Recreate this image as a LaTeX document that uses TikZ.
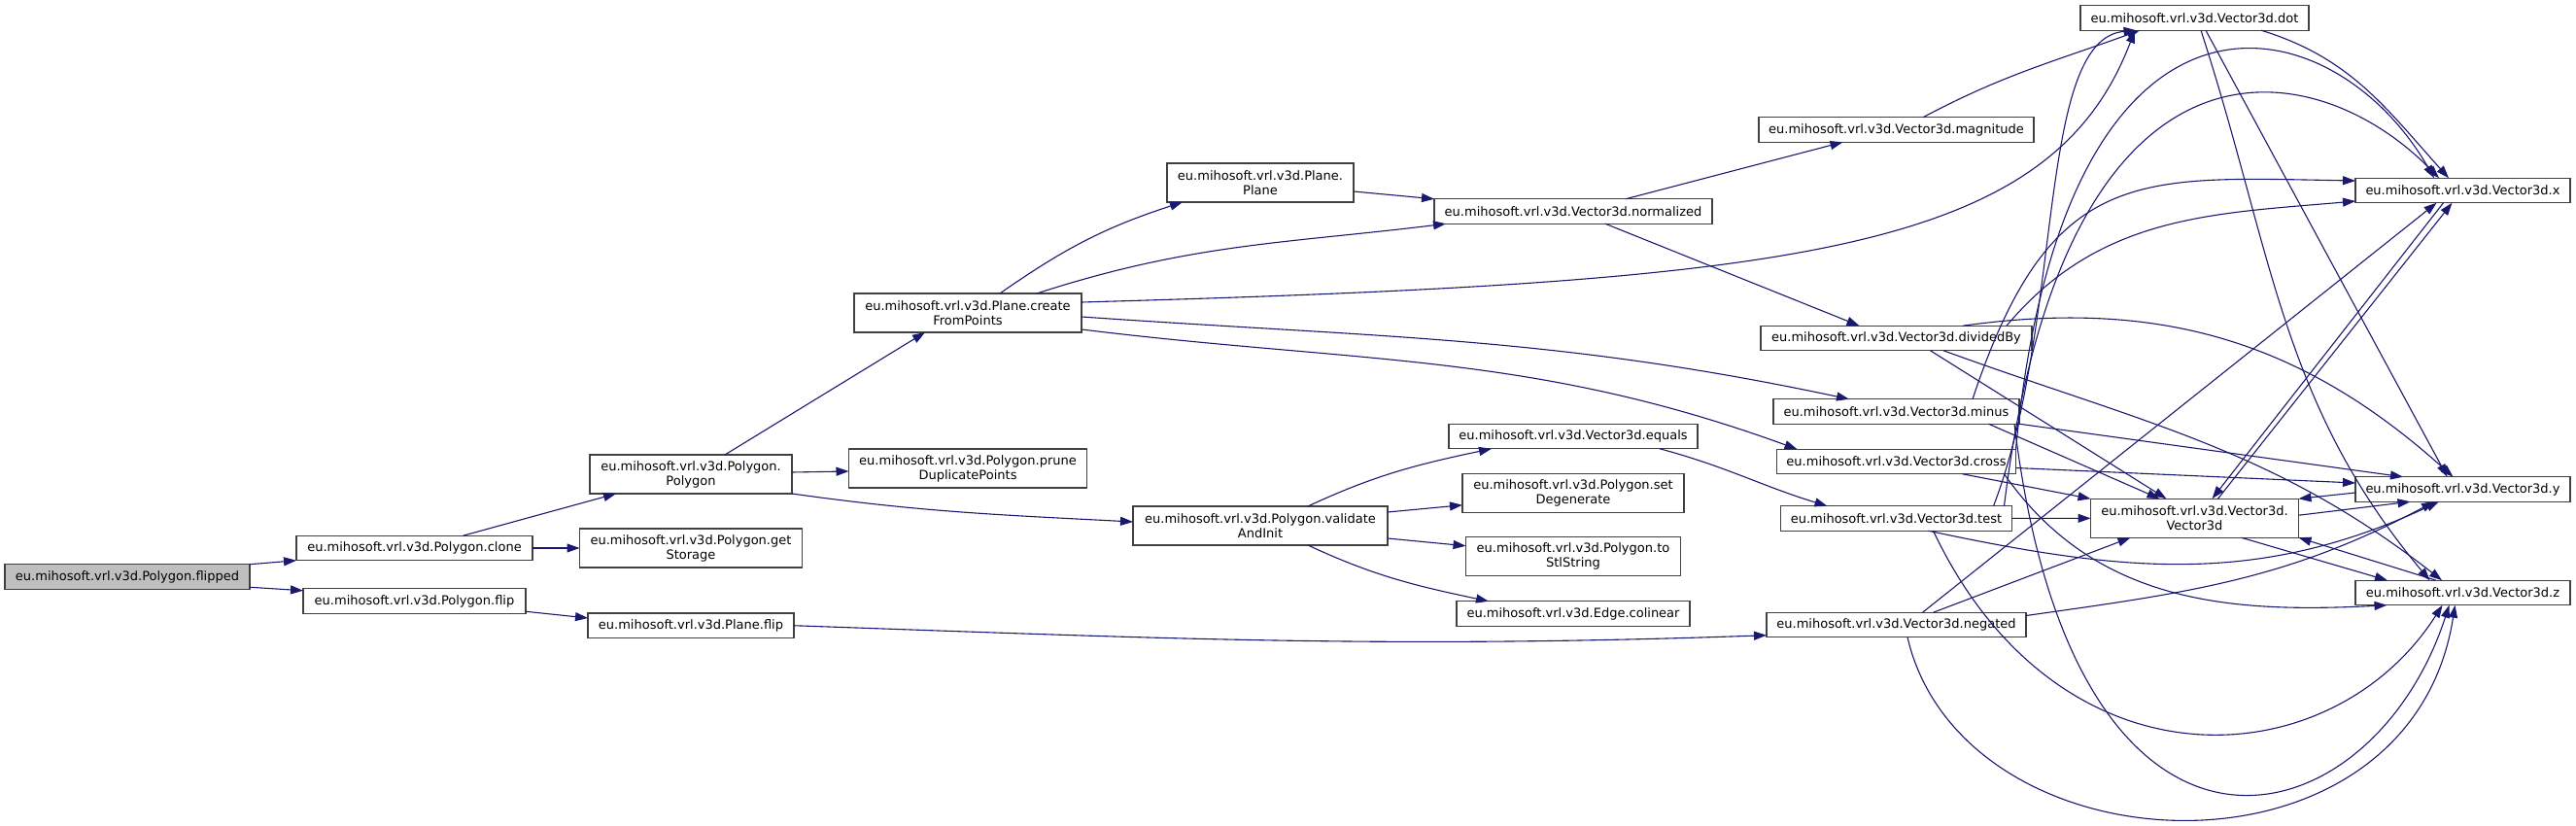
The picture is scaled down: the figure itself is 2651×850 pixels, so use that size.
\documentclass[tikz,border=0pt]{standalone}
\usepackage{fontspec}
\setmainfont{DejaVu Sans}
\usepackage{tikz}
\usetikzlibrary{arrows.meta,positioning}
\definecolor{edgeblue}{HTML}{191970}
\definecolor{nodeline}{HTML}{404040}
\definecolor{rootfill}{HTML}{BFBFBF}

\begin{document}
\begin{tikzpicture}[
    node distance=26pt,
    func/.style={draw=nodeline, line width=1.3pt, fill=#1, inner sep=2pt, outer sep=0pt, minimum height=25.5pt, align=center, font=\fontsize{13pt}{15pt}\selectfont},
    func/.default=white,
    call/.style={-{Triangle[length=13pt,width=9pt]}, line width=1.1pt, color=edgeblue},
]
\useasboundingbox (0,0) rectangle (2651pt,-850pt);

% ── Caller ──
\node[func=rootfill, minimum width=252pt] (flipped) at (131pt,-593.5pt) {eu.mihosoft.vrl.v3d.Polygon.flipped};

% ── Polygon level ──
\node[func, minimum width=243pt, right=48pt of flipped, yshift=29.5pt] (clone) {eu.mihosoft.vrl.v3d.Polygon.clone};
\node[func, minimum width=229pt, below=29pt of clone] (pflip) {eu.mihosoft.vrl.v3d.Polygon.flip};

\node[func, minimum width=208pt, minimum height=40pt, right=59pt of clone, yshift=76pt] (polygon) {eu.mihosoft.vrl.v3d.Polygon.\\Polygon};
\node[func, minimum width=229pt, minimum height=40pt, below=36pt of polygon] (storage) {eu.mihosoft.vrl.v3d.Polygon.get\\Storage};
\node[func, minimum width=212pt, below=47pt of storage] (planeflip) {eu.mihosoft.vrl.v3d.Plane.flip};

% ── Plane level ──
\node[func, minimum width=234pt, minimum height=40pt, right=64pt of polygon, yshift=166pt] (create) {eu.mihosoft.vrl.v3d.Plane.create\\FromPoints};
\node[func, minimum width=245pt, minimum height=40pt, below=120pt of create] (prune) {eu.mihosoft.vrl.v3d.Polygon.prune\\DuplicatePoints};

\node[func, minimum width=192pt, minimum height=40pt, right=88pt of create, yshift=134pt] (plane) {eu.mihosoft.vrl.v3d.Plane.\\Plane};
\node[func, minimum width=262pt, minimum height=40pt, below=313pt of plane] (validate) {eu.mihosoft.vrl.v3d.Polygon.validate\\AndInit};

% ── Helpers ──
\node[func, minimum width=286pt, right=83pt of plane, yshift=-29.5pt] (normalized) {eu.mihosoft.vrl.v3d.Vector3d.normalized};
\node[func, minimum width=256pt, below=206pt of normalized] (equals) {eu.mihosoft.vrl.v3d.Vector3d.equals};
\node[func, minimum width=228pt, minimum height=40pt, below=26pt of equals] (degenerate) {eu.mihosoft.vrl.v3d.Polygon.set\\Degenerate};
\node[func, minimum width=221pt, minimum height=40pt, below=25pt of degenerate] (stl) {eu.mihosoft.vrl.v3d.Polygon.to\\StlString};
\node[func, minimum width=240pt, below=26pt of stl] (colinear) {eu.mihosoft.vrl.v3d.Edge.colinear};

% ── Vector3d operations ──
\node[func, minimum width=283pt, right=48pt of normalized, yshift=84pt] (magnitude) {eu.mihosoft.vrl.v3d.Vector3d.magnitude};
\node[func, minimum width=279pt, below=189pt of magnitude] (divided) {eu.mihosoft.vrl.v3d.Vector3d.dividedBy};
\node[func, minimum width=253pt, below=50pt of divided] (minus) {eu.mihosoft.vrl.v3d.Vector3d.minus};
\node[func, minimum width=246pt, below=26pt of minus] (cross) {eu.mihosoft.vrl.v3d.Vector3d.cross};
\node[func, minimum width=238pt, below=33pt of cross] (test) {eu.mihosoft.vrl.v3d.Vector3d.test};
\node[func, minimum width=267pt, below=84pt of test] (negated) {eu.mihosoft.vrl.v3d.Vector3d.negated};

\node[func, minimum width=235pt, right=48pt of magnitude, yshift=115pt] (dot) {eu.mihosoft.vrl.v3d.Vector3d.dot};
\node[func, minimum width=214pt, minimum height=40pt, below=482pt of dot] (vec) {eu.mihosoft.vrl.v3d.Vector3d.\\Vector3d};

% ── Accessors ──
\node[func, minimum width=221pt, right=48pt of dot, yshift=-177.5pt] (vx) {eu.mihosoft.vrl.v3d.Vector3d.x};
\node[func, minimum width=221pt, below=282pt of vx] (vy) {eu.mihosoft.vrl.v3d.Vector3d.y};
\node[func, minimum width=221pt, below=81pt of vy] (vz) {eu.mihosoft.vrl.v3d.Vector3d.z};

% ── Calls ──
\draw[call] (flipped.north east) -- (clone.south west);
\draw[call] ([yshift=2pt]flipped.south east) -- ([yshift=-2pt]pflip.north west);
\draw[call] ([xshift=50pt]clone.north) -- ([xshift=-77pt]polygon.south);
\draw[call] (clone) -- (storage);
\draw[call] ([yshift=2pt]pflip.south east) -- ([yshift=-5pt]planeflip.north west);
\draw[call] ([xshift=35pt]polygon.north) -- ([xshift=-44pt]create.south);
\draw[call] ([yshift=2pt]polygon.east) -- ([yshift=-3pt]prune.west);
\draw[call] (polygon.south east) to[out=-8,in=177] ([yshift=4pt]validate.west);
\draw[call] (planeflip.east) to[out=-2,in=182] ([yshift=2pt]negated.south west);

\draw[call] ([xshift=33pt]create.north) to[out=35,in=198] ([xshift=-80pt]plane.south);
\draw[call] ([xshift=71pt]create.north) to[out=18,in=187] ([xshift=-131pt]normalized.south);
\draw[call] ([yshift=11pt]create.east) .. controls ([xshift=737pt,yshift=32pt]create.east) and ([xshift=-148.5pt,yshift=-229pt]dot.south) .. ([xshift=-61.5pt]dot.south);
\draw[call] ([yshift=-4pt]create.east) to[out=-4,in=168] ([xshift=-48.5pt]minus.north);
\draw[call] ([yshift=3pt]create.south east) to[out=-7,in=160] ([xshift=-102pt]cross.north);
\draw[call] ([yshift=-9pt]plane.east) -- (normalized.north west);

\draw[call] ([xshift=49pt]validate.north) to[out=25,in=192] ([xshift=-84pt]equals.south);
\draw[call] ([yshift=-6pt]validate.north east) -- ([yshift=-12pt]degenerate.west);
\draw[call] ([yshift=7pt]validate.south east) -- ([yshift=11pt]stl.west);
\draw[call] ([xshift=49pt]validate.south) to[out=-25,in=168] ([xshift=-87pt]colinear.north);

\draw[call] ([xshift=54pt]normalized.north) -- ([xshift=-55pt]magnitude.south);
\draw[call] ([xshift=33pt]normalized.south) -- ([xshift=-38pt]divided.north);
\draw[call] ([xshift=27.5pt]magnitude.north) to[out=28,in=200] ([xshift=-56.5pt]dot.south);
\draw[call] ([xshift=89pt]equals.south) to[out=-15,in=163] ([xshift=-71pt]test.north);

\draw[call] ([xshift=68.5pt]dot.south) to[out=-17,in=132] ([xshift=-14.5pt]vx.north);
\draw[call] ([xshift=11.5pt]dot.south) -- ([xshift=-16pt]vy.north);
\draw[call] ([xshift=6.5pt]dot.south) to[out=-72,in=130] ([xshift=-34pt]vz.north);

\draw[call] ([xshift=113.5pt]divided.north) to[out=50,in=185] ([yshift=-11pt]vx.west);
\draw[call] ([xshift=68.5pt]divided.north) to[out=8,in=138] ([xshift=-10pt]vy.north);
\draw[call] ([xshift=35pt]divided.south) -- ([xshift=-29pt]vec.north);
\draw[call] ([xshift=48.5pt]divided.south) to[out=-20,in=142] ([xshift=-21.5pt]vz.north);

\draw[call] ([xshift=78.5pt]minus.north) .. controls ([xshift=158.5pt,yshift=241pt]minus.north) and ([xshift=-224pt,yshift=14pt]vx.west) .. ([yshift=10pt]vx.west);
\draw[call] (minus.south east) -- ([xshift=-61.5pt]vy.north);
\draw[call] ([xshift=95pt]minus.south) -- ([xshift=-36pt]vec.north);
\draw[call] ([xshift=121.5pt]minus.south) .. controls ([xshift=183.5pt,yshift=-514pt]minus.south) and ([xshift=-94.5pt,yshift=-248pt]vz.south) .. ([xshift=-14pt]vz.south);

\draw[call] (cross.north east) .. controls ([xshift=173pt,yshift=522pt]cross.north) and ([xshift=-134.5pt,yshift=183pt]vx.north) .. ([xshift=-29.5pt]vx.north);
\draw[call] ([yshift=-6.5pt]cross.east) -- ([yshift=6.5pt]vy.west);
\draw[call] ([xshift=68pt]cross.south) -- (vec.north west);
\draw[call] ([xshift=111pt]cross.south) to[out=-55,in=183] ([xshift=-78pt]vz.south);

\draw[call] (test) -- (vec);
\draw[call] ([xshift=111pt]test.north) .. controls ([xshift=173pt,yshift=510pt]test.north) and ([xshift=-154.5pt,yshift=133pt]vx.north) .. ([xshift=-24.5pt]vx.north);
\draw[call] ([xshift=100pt]test.north) .. controls ([xshift=173pt,yshift=190pt]test.north) and ([xshift=-163.5pt,yshift=-9pt]dot.south) .. ([xshift=-60pt]dot.south);
\draw[call] ([xshift=33pt]test.south) to[out=-12,in=205] ([xshift=-24.5pt]vy.south);
\draw[call] ([xshift=38pt]test.south) .. controls ([xshift=168pt,yshift=-274pt]test.south) and ([xshift=-134.5pt,yshift=-178pt]vz.south) .. ([xshift=-21pt]vz.south);

\draw[call] ([xshift=27pt]negated.north) -- ([xshift=-27pt]vx.south);
\draw[call] ([yshift=9.5pt]negated.east) to[out=8,in=208] ([xshift=-29.5pt]vy.south);
\draw[call] ([xshift=38pt]negated.north) -- ([xshift=-66pt]vec.south);
\draw[call] ([xshift=11.5pt]negated.south) .. controls ([xshift=68.5pt,yshift=-245pt]negated.south) and ([xshift=-54.5pt,yshift=-298pt]vz.south) .. ([xshift=-8pt]vz.south);

\draw[call] ([xshift=24pt]vec.north) -- ([xshift=-11pt]vx.south);
\draw[call] ([xshift=-20pt]vx.south) -- ([xshift=18pt]vec.north);
\draw[call] ([yshift=3pt]vec.east) -- ([xshift=-54pt]vy.south);
\draw[call] ([yshift=-3.5pt]vy.west) -- (vec.north east);
\draw[call] ([xshift=48pt]vec.south) -- ([xshift=-77.5pt]vz.north);
\draw[call] ([xshift=-27.5pt]vz.north) -- (vec.south east);

\end{tikzpicture}
\end{document}
